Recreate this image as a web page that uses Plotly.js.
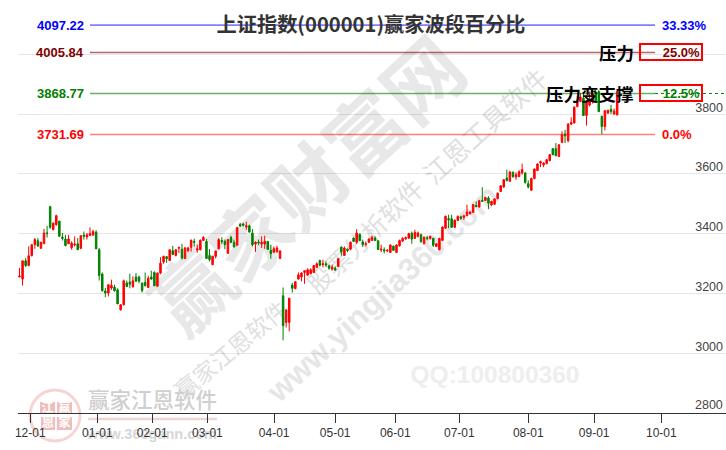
<!DOCTYPE html>
<html><head><meta charset="utf-8">
<script src="https://cdn.plot.ly/plotly-3.0.1.min.js"></script>
<style>html,body{margin:0;padding:0;background:#fff}#c{width:726px;height:450px}</style>
</head><body><div id="c"></div>
<script>
const opens=[3255,3248,3309,3293,3326,3363,3376,3351,3366,3402,
3490,3413,3430,3442,3388,3382,3366,3353,3362,3366,
3351,3395,3389,3394,3395,3405,3346,3265,3208,3201,
3218,3221,3212,3145,3162,3235,3238,3222,3255,3255,
3235,3237,3220,3255,3270,3224,3268,3305,3323,3310,
3343,3327,3351,3348,3317,3343,3354,3374,3345,3346,
3377,3374,3327,3296,3324,3349,3377,3374,3334,3387,
3371,3361,3431,3432,3422,3426,3402,3365,3372,3365,
3365,3374,3344,3338,3339,3317,3192,3103,3103,3228,
3216,3248,3255,3270,3261,3266,3270,3287,3310,3296,
3299,3292,3281,3284,3290,3355,3327,3348,3348,3385,
3371,3398,3372,3364,3371,3377,3385,3376,3345,3346,
3342,3337,3358,3337,3359,3375,3382,3385,3401,3384,
3391,3396,3366,3386,3384,3384,3357,3346,3377,3418,
3450,3450,3421,3444,3456,3454,3460,3466,3471,3494,
3489,3511,3511,3519,3496,3498,3517,3541,3556,3586,
3575,3605,3589,3591,3603,3603,3567,3545,3584,3611,
3636,3630,3634,3644,3684,3684,3658,3705,3733,3711,
3766,3770,3825,3842,3853,3795,3830,3842,3870,3875,
3792,3758,3803,3816,3800,3797];
const closes=[3258,3309,3293,3326,3363,3380,3359,3371,3402,3401,
3421,3435,3460,3391,3384,3360,3382,3368,3365,3346,
3393,3391,3396,3400,3407,3349,3260,3209,3201,3229,
3227,3209,3165,3162,3242,3223,3231,3242,3241,3241,
3210,3226,3251,3248,3226,3268,3301,3324,3316,3346,
3330,3346,3354,3318,3352,3352,3378,3371,3349,3378,
3387,3317,3313,3324,3342,3380,3373,3363,3380,3371,
3355,3420,3426,3428,3426,3405,3363,3371,3369,3371,
3374,3347,3333,3349,3352,3342,3092,3145,3184,3217,
3239,3262,3268,3276,3279,3279,3293,3299,3294,3299,
3295,3284,3288,3278,3316,3339,3352,3344,3371,3374,
3402,3377,3363,3366,3382,3388,3377,3347,3348,3342,
3344,3362,3344,3362,3377,3384,3387,3400,3382,3404,
3402,3373,3388,3384,3391,3361,3366,3384,3422,3458,
3446,3421,3445,3458,3451,3460,3472,3472,3497,3490,
3510,3508,3521,3502,3508,3516,3535,3560,3580,3577,
3606,3591,3597,3607,3614,3571,3556,3584,3616,3633,
3641,3636,3647,3664,3664,3660,3697,3731,3727,3766,
3772,3823,3842,3857,3795,3842,3850,3868,3845,3808,
3758,3811,3812,3808,3810,3875];
const highs=[3285,3309,3318,3357,3363,3385,3385,3373,3416,3426,
3493,3437,3463,3442,3402,3396,3396,3374,3391,3385,
3393,3407,3402,3421,3413,3411,3352,3270,3218,3229,
3246,3229,3217,3164,3246,3243,3266,3257,3268,3259,
3235,3270,3259,3276,3274,3270,3321,3326,3323,3346,
3359,3348,3355,3366,3355,3355,3380,3383,3363,3380,
3391,3382,3348,3326,3342,3385,3388,3380,3381,3393,
3380,3421,3436,3436,3440,3430,3415,3374,3380,3391,
3393,3375,3363,3357,3359,3344,3220,3145,3184,3235,
3240,3270,3271,3276,3284,3284,3295,3304,3313,3313,
3307,3296,3296,3290,3318,3357,3357,3350,3374,3388,
3415,3400,3380,3374,3384,3393,3391,3378,3363,3354,
3348,3364,3360,3364,3380,3388,3390,3403,3407,3413,
3407,3400,3390,3393,3393,3386,3368,3386,3424,3460,
3463,3463,3447,3460,3460,3463,3497,3475,3499,3508,
3513,3555,3523,3525,3510,3518,3538,3562,3582,3614,
3610,3608,3605,3612,3634,3605,3578,3587,3618,3635,
3644,3639,3650,3666,3686,3703,3699,3742,3747,3770,
3789,3825,3860,3870,3870,3845,3875,3880,3885,3880,
3795,3813,3815,3831,3818,3877];
const lows=[3255,3226,3288,3293,3324,3349,3355,3349,3366,3387,
3416,3411,3426,3390,3377,3357,3366,3346,3357,3346,
3348,3380,3380,3394,3393,3349,3243,3206,3187,3190,
3212,3206,3165,3143,3160,3221,3217,3220,3238,3234,
3203,3223,3218,3246,3224,3223,3264,3299,3302,3310,
3328,3324,3335,3313,3316,3338,3340,3357,3336,3344,
3376,3316,3307,3295,3317,3348,3365,3348,3333,3368,
3355,3360,3422,3424,3413,3404,3357,3339,3361,3352,
3349,3347,3316,3335,3337,3315,3043,3086,3073,3203,
3214,3246,3240,3232,3259,3264,3268,3285,3290,3287,
3288,3279,3276,3276,3288,3326,3326,3338,3344,3372,
3366,3375,3355,3357,3369,3377,3375,3346,3338,3334,
3338,3335,3342,3336,3357,3372,3380,3382,3366,3382,
3387,3370,3364,3378,3380,3355,3355,3344,3375,3416,
3418,3419,3419,3442,3446,3446,3458,3464,3470,3489,
3487,3507,3509,3482,3493,3496,3515,3540,3553,3575,
3573,3586,3580,3589,3597,3567,3551,3544,3582,3609,
3622,3622,3632,3642,3662,3660,3656,3703,3703,3705,
3764,3768,3822,3840,3793,3761,3825,3835,3840,3806,
3733,3745,3800,3800,3797,3795];
const monthTicks=[3.5,25.4,43.3,61.3,83.1,103,122.6,143.5,166,187.5,209.4];
const monthLabels=['12-01','01-01','02-01','03-01','04-01','05-01','06-01','07-01','08-01','09-01','10-01'];
const priceTicks=[2800,3000,3200,3400,3600,3800,4000];
const priceLabels=['','3000','3200','3400','3600','3800',''];
const floorPrice=2800;
const levels=[4097.22,4005.84,3868.77,3731.69];
const levelPct=['33.33%','25.0%','12.5%','0.0%'];
const levelColors=['#0000ff','#800000','#008000','#ff0000'];
const lineColors=['rgba(0,0,255,.5)','rgba(128,0,0,.6)','rgba(0,128,0,.6)','rgba(255,0,0,.5)'];
const notes=['','压力','压力变支撑',''];

const W=726,H=450,L=18,B=37,PW=W-L,PH=H-B;
const xp=p=>(p-L)/PW, yp=p=>(PH-p)/PH;
const CJK='"Noto Sans CJK SC",sans-serif';
const LAT='"Liberation Sans",Arial,sans-serif';
const idx=opens.map((_,i)=>i);

function wm(text,cx,cy,size,angle,color,family,weight){
  return {type:'rect',layer:'below',xref:'paper',yref:'paper',
    x0:xp(cx-1),x1:xp(cx+1),y0:yp(cy+1),y1:yp(cy-1),
    line:{width:0},fillcolor:'rgba(0,0,0,0)',
    label:{text:text,textangle:angle,textposition:'middle center',
      font:{size:size,color:color,family:family||CJK,weight:weight||700}}};
}
function box(x0,y0,x1,y1,fill,text,size){
  return {type:'rect',layer:'below',xref:'paper',yref:'paper',
    x0:xp(x0),x1:xp(x1),y0:yp(y1),y1:yp(y0),line:{width:0},fillcolor:fill,
    label:{text:text,textposition:'middle center',font:{size:size,color:'#fff',family:CJK,weight:700}}};
}
const shapes=[
  wm('赢家财富网',313,191,78,-42.7,'#e8e8e8'),
  wm('赢家江恩软件',233,352,23,-39.5,'#e0e0e0',CJK,400),
  wm('股票分析软件',367,238,25,-44,'#e0e0e0',CJK,400),
  wm('江恩工具软件',487,128,26,-42,'#e0e0e0',CJK,400),
  wm('www.yingjia360.com',381,291,31,-42.8,'#e6e6e6',LAT),
  wm('QQ:100800360',495,372,24.5,0,'#eeeeee',LAT),
  wm('赢家江恩软件',152.5,402,21.5,0,'#cfcfcf',CJK,500),
  wm('www.360gann.com',152,432,14.5,0,'#d6d6d6',LAT),
  {type:'circle',layer:'below',xref:'paper',yref:'paper',x0:xp(30),x1:xp(80),y0:yp(441),y1:yp(390),
    line:{color:'#f6d4d4',width:3},fillcolor:'rgba(0,0,0,0)'},
  box(40,402,55,414,'#f0bcbc','江',12),
  box(57,402,72,414,'#f0bcbc','赢',12),
  box(41,417,55,430,'#f0bcbc','恩',12),
  box(57,417,72,430,'#f0bcbc','家',12),
  {type:'line',layer:'below',xref:'paper',yref:'paper',x0:xp(88),x1:xp(217),y0:yp(419),y1:yp(419),
    line:{color:'#f0d4d4',width:2.5}}
];
levels.forEach((v,i)=>shapes.push({type:'line',layer:'above',xref:'paper',yref:'y',
  x0:xp(90),x1:xp(655),y0:v,y1:v,line:{color:lineColors[i],width:1.6}}));
shapes.push({type:'line',layer:'above',xref:'paper',yref:'y',x0:xp(655),x1:xp(726),
  y0:levels[2],y1:levels[2],line:{color:'#008000',width:1,dash:'dot'}});

const annotations=[{xref:'paper',yref:'y',x:1,y:floorPrice,xanchor:'right',yanchor:'bottom',showarrow:false,
  text:String(floorPrice),xshift:-1,yshift:-1,font:{size:12.5,color:'#444',family:LAT}}];
levels.forEach((v,i)=>{
  annotations.push({xref:'paper',yref:'y',x:xp(85.5),y:v,xanchor:'right',yanchor:'middle',showarrow:false,
    text:v.toFixed(2),font:{size:13,color:levelColors[i],family:LAT,weight:700}});
  const boxed=notes[i]!=='';
  annotations.push(boxed?
    {xref:'paper',yref:'y',x:xp(639),y:v,xanchor:'left',yanchor:'middle',showarrow:false,
     text:levelPct[i],width:58,height:12,align:'right',valign:'middle',bordercolor:'#ff0000',borderwidth:2,borderpad:1,
     font:{size:13,color:levelColors[i],family:LAT,weight:700}}:
    {xref:'paper',yref:'y',x:xp(660),y:v,xanchor:'left',yanchor:'middle',showarrow:false,
     text:levelPct[i],font:{size:13,color:levelColors[i],family:LAT,weight:700}});
  if(boxed) annotations.push({xref:'paper',yref:'y',x:xp(636),y:v,xanchor:'right',yanchor:'middle',showarrow:false,
     text:notes[i],font:{size:17.5,color:'#000',family:CJK,weight:700}});
});

Plotly.newPlot('c',[{
  type:'candlestick',x:idx,open:opens,high:highs,low:lows,close:closes,
  increasing:{line:{color:'#ff0000',width:1},fillcolor:'#ff0000'},
  decreasing:{line:{color:'#008000',width:1},fillcolor:'#008000'},
  whiskerwidth:0,hoverinfo:'skip',showlegend:false
}],{
  width:W,height:H,margin:{l:L,r:0,t:0,b:B,pad:0},
  paper_bgcolor:'#fff',plot_bgcolor:'#fff',showlegend:false,boxgap:0.3,
  title:{text:'上证指数(000001)赢家波段百分比',x:371/W,xref:'container',xanchor:'center',y:1-25/H,yref:'container',yanchor:'middle',
    font:{size:20.2,color:'#333',family:CJK,weight:700}},
  xaxis:{type:'linear',range:[-0.49,230.51],rangeslider:{visible:false},showgrid:false,zeroline:false,
    tickmode:'array',tickvals:monthTicks,ticktext:monthLabels,ticks:'outside',ticklen:9,tickwidth:1,tickcolor:'#333',
    showline:true,linecolor:'#333',linewidth:1,tickfont:{size:12,color:'#333',family:LAT}},
  yaxis:{range:[2800,4181.3],side:'right',ticklabelposition:'inside top',ticklabelshift:2,showline:false,zeroline:false,
    tickmode:'array',tickvals:priceTicks,ticktext:priceLabels,ticks:'',showgrid:true,gridcolor:'rgba(0,0,0,.1)',gridwidth:1,
    tickfont:{size:12.5,color:'#444',family:LAT}},
  shapes,annotations
},{staticPlot:true,displayModeBar:false});
</script></body></html>
